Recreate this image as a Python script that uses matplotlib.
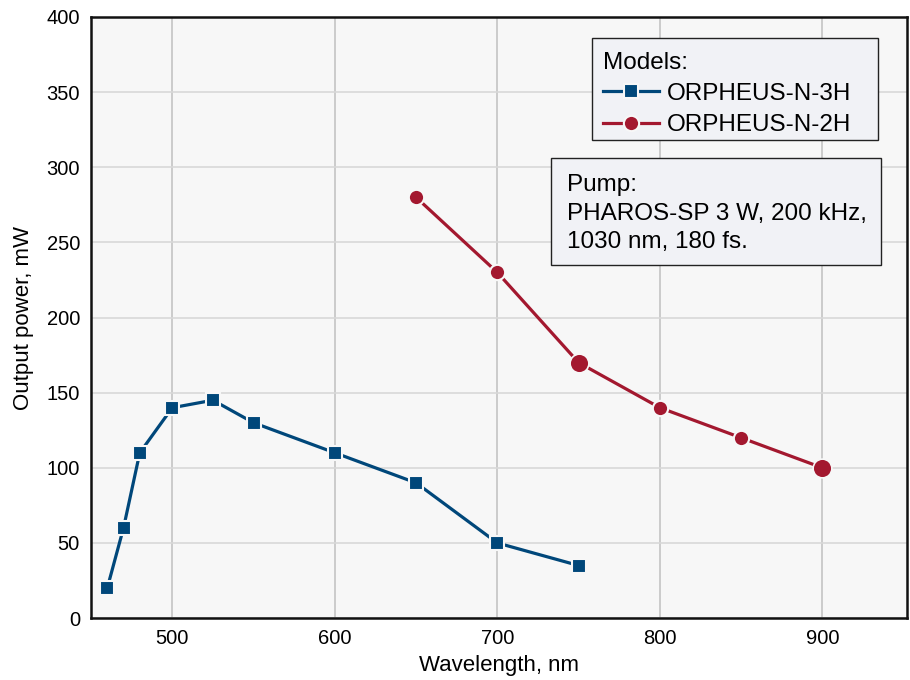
import matplotlib.pyplot as plt
from matplotlib.patches import Rectangle

plt.rcParams['font.family'] = ['Liberation Sans', 'DejaVu Sans']

wl_3h = [460, 470, 480, 500, 525, 550, 600, 650, 700, 750]
pw_3h = [20, 60, 110, 140, 145, 130, 110, 90, 50, 35]
wl_2h = [650, 700, 750, 800, 850, 900]
pw_2h = [280, 230, 170, 140, 120, 100]
big_2h = [750, 900]

blue = '#00477a'
red = '#a3182f'
bg = '#f7f7f7'
box_fc = '#f1f2f6'

fig = plt.figure(figsize=(9.1, 6.8), dpi=100)
ax = fig.add_axes([0.1, 0.091, 0.8967, 0.884])
ax.set_facecolor(bg)

ax.plot(wl_3h, pw_3h, color=blue, lw=2.3, marker='s', ms=9.5,
        mec=bg, mew=1.5, label='ORPHEUS-N-3H', zorder=3)
ax.plot(wl_2h, pw_2h, color=red, lw=2.3, marker='o', ms=11,
        mec=bg, mew=1.5, label='ORPHEUS-N-2H', zorder=3)
bx = [w for w in wl_2h if w in big_2h]
by = [p for w, p in zip(wl_2h, pw_2h) if w in big_2h]
ax.plot(bx, by, ls='none', marker='o', ms=13.5, color=red, mec=bg, mew=1.2, zorder=4)

ax.set_xlim(450, 952)
ax.set_ylim(0, 400)
ax.set_xticks([500, 600, 700, 800, 900])
ax.set_yticks(range(0, 401, 50))
ax.tick_params(length=0, labelsize=14.5, pad=8)
ax.grid(axis='x', color='#c4c4c4', lw=1.2)
ax.grid(axis='y', color='#d8d8d8', lw=1.2)
ax.set_axisbelow(True)
for s in ax.spines.values():
    s.set_linewidth(1.8)
    s.set_color('#111111')

ax.set_xlabel('Wavelength, nm', fontsize=16, labelpad=5)
ax.set_ylabel('Output power, mW', fontsize=16, labelpad=9)

# boxes drawn separately so their size matches the original
ax.add_patch(Rectangle((0.614, 0.795), 0.3505, 0.17, transform=ax.transAxes,
                       fc=box_fc, ec='#222222', lw=1.0, zorder=5))
ax.add_patch(Rectangle((0.564, 0.588), 0.4045, 0.177, transform=ax.transAxes,
                       fc=box_fc, ec='#222222', lw=1.0, zorder=5))

leg = ax.legend(title='Models:', loc='upper left', bbox_to_anchor=(0.628, 0.941),
                fontsize=17.5, title_fontsize=17.5, frameon=False,
                handlelength=2.3, borderpad=0, labelspacing=0.38, handletextpad=0.3,
                borderaxespad=0)
leg._legend_box.align = 'left'
leg._legend_box.sep = 6
leg.set_zorder(6)

ax.text(0.583, 0.739, 'Pump:\nPHAROS-SP 3 W, 200 kHz,\n1030 nm, 180 fs.',
        transform=ax.transAxes, fontsize=17.5, va='top', ha='left', linespacing=1.4,
        zorder=6)

fig.savefig('out.png', dpi=100)
